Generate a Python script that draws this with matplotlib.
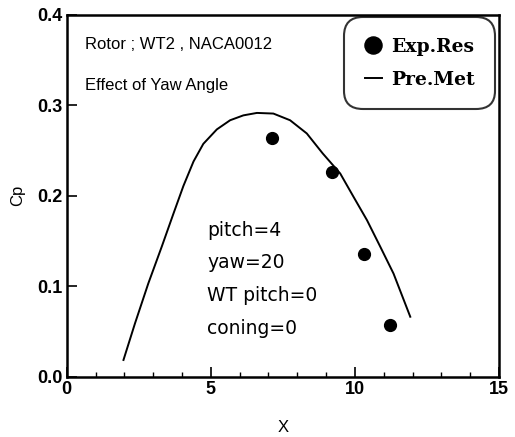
import matplotlib
matplotlib.use("Agg")
import matplotlib.pyplot as plt
from matplotlib.ticker import MultipleLocator

# Experimental results
exp_x = [7.13, 9.2, 10.33, 11.22]
exp_cp = [0.264, 0.2265, 0.1356, 0.057]

# Prediction method curve
pre_x = [1.97, 2.37, 2.83, 3.30, 3.70, 4.05, 4.40, 4.74, 5.21, 5.67, 6.13,
         6.60, 7.17, 7.75, 8.33, 8.88, 9.49, 9.95, 10.42, 10.88, 11.34, 11.92]
pre_cp = [0.0185, 0.059, 0.103, 0.144, 0.180, 0.211, 0.238, 0.2575, 0.2735,
          0.2836, 0.289, 0.2917, 0.291, 0.2836, 0.269, 0.247, 0.2247, 0.199,
          0.173, 0.1437, 0.114, 0.0663]

x_ticks = [0, 5, 10, 15]
y_ticks = [0.0, 0.1, 0.2, 0.3, 0.4]

fig = plt.figure(figsize=(5.15, 4.37), dpi=100)
ax = fig.add_axes([0.1295, 0.138, 0.8395, 0.8277])

ax.plot(pre_x, pre_cp, color="black", lw=1.4, label="Pre.Met",
        solid_joinstyle="round")
ax.plot(exp_x, exp_cp, "o", color="black", ms=8.5, label="Exp.Res")

ax.set_xlim(0, 15)
ax.set_ylim(0, 0.4)
ax.set_xticks(x_ticks)
ax.set_yticks(y_ticks)
ax.set_xticklabels([str(v) for v in x_ticks], fontsize=13,
                   family="Liberation Sans", weight="bold")
ax.set_yticklabels([f"{v:.1f}" for v in y_ticks], fontsize=13,
                   family="Liberation Sans", weight="bold")
ax.xaxis.set_minor_locator(MultipleLocator(1))
ax.tick_params(axis="both", which="major", direction="in", length=7, width=1.2, pad=3)
ax.tick_params(axis="x", which="minor", direction="in", length=3.5, width=1)
for s in ax.spines.values():
    s.set_linewidth(1.8)

ax.set_xlabel("X", fontsize=12, family="Liberation Sans", labelpad=16)
ax.set_ylabel("Cp", fontsize=12, family="Liberation Sans", labelpad=9)

ax.text(0.043, 0.918, "Rotor ; WT2 , NACA0012", transform=ax.transAxes,
        fontsize=12, family="Liberation Sans", va="center")
ax.text(0.043, 0.806, "Effect of Yaw Angle", transform=ax.transAxes,
        fontsize=12, family="Liberation Sans", va="center")

params = ["pitch=4", "yaw=20", "WT pitch=0", "coning=0"]
for i, t in enumerate(params):
    ax.text(0.325, 0.405 - i * 0.0905, t, transform=ax.transAxes,
            fontsize=13.5, family="DejaVu Sans", va="center")

handles, labels = ax.get_legend_handles_labels()
leg = ax.legend(handles[::-1], labels[::-1], loc="upper right",
                bbox_to_anchor=(0.991, 0.994), frameon=True, fancybox=True,
                handlelength=0.95, handletextpad=0.45, borderpad=1.1,
                labelspacing=0.8, borderaxespad=0, markerscale=1.45,
                prop={"family": "DejaVu Serif", "weight": "bold", "size": 13.5})
frame = leg.get_frame()
frame.set_edgecolor("black")
frame.set_linewidth(1.5)
frame.set_boxstyle("round,pad=0.0,rounding_size=1.0")

fig.savefig("out.png", dpi=100)
